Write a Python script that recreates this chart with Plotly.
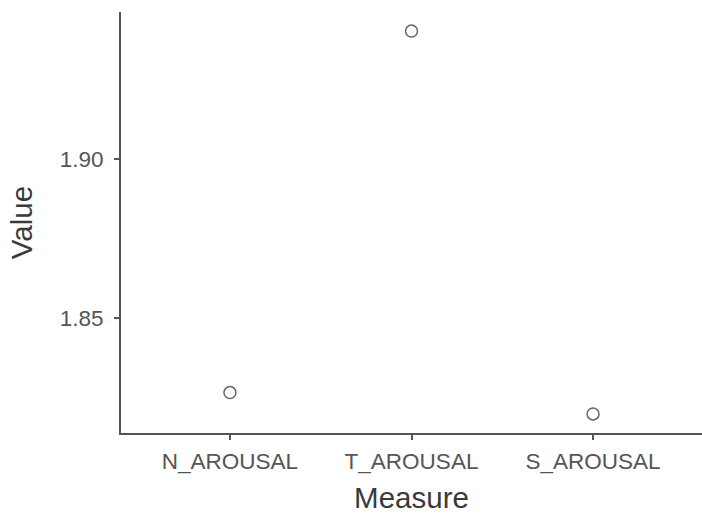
import plotly.graph_objects as go

# Mean arousal value per measure
measures = ["N_AROUSAL", "T_AROUSAL", "S_AROUSAL"]
values = [1.8265, 1.9401, 1.8198]

y_ticks = [1.85, 1.90]
y_tick_labels = ["1.85", "1.90"]

axis_color = "#555555"
tick_font = dict(family="Liberation Sans, Arial, sans-serif", size=22.5, color="#555555")
title_font = dict(family="Liberation Sans, Arial, sans-serif", size=29.5, color="#3a3a3a")

fig = go.Figure(
    go.Scatter(
        x=list(range(len(measures))),
        y=values,
        mode="markers",
        marker=dict(
            symbol="circle-open",
            size=12,
            color="#666666",
            line=dict(width=1.5, color="#666666"),
        ),
        showlegend=False,
    )
)

fig.update_layout(
    width=702,
    height=518,
    margin=dict(l=121, r=0, t=12, b=85),
    plot_bgcolor="white",
    paper_bgcolor="white",
    xaxis=dict(
        title=dict(text="Measure", font=title_font, standoff=14),
        tickmode="array",
        tickvals=list(range(len(measures))),
        ticktext=measures,
        range=[-0.6, 2.6],
        showgrid=False,
        zeroline=False,
        showline=True,
        linecolor=axis_color,
        linewidth=2,
        ticks="outside",
        ticklen=5,
        tickwidth=2,
        tickcolor=axis_color,
        tickfont=tick_font,
        ticklabelstandoff=2,
    ),
    yaxis=dict(
        title=dict(text="Value", font=title_font, standoff=18),
        tickmode="array",
        tickvals=y_ticks,
        ticktext=y_tick_labels,
        range=[1.8138, 1.9461],
        showgrid=False,
        zeroline=False,
        showline=True,
        linecolor=axis_color,
        linewidth=2,
        ticks="outside",
        ticklen=5,
        tickwidth=2,
        tickcolor=axis_color,
        tickfont=tick_font,
        ticklabelstandoff=6,
    ),
)

fig.write_html("out.html")
